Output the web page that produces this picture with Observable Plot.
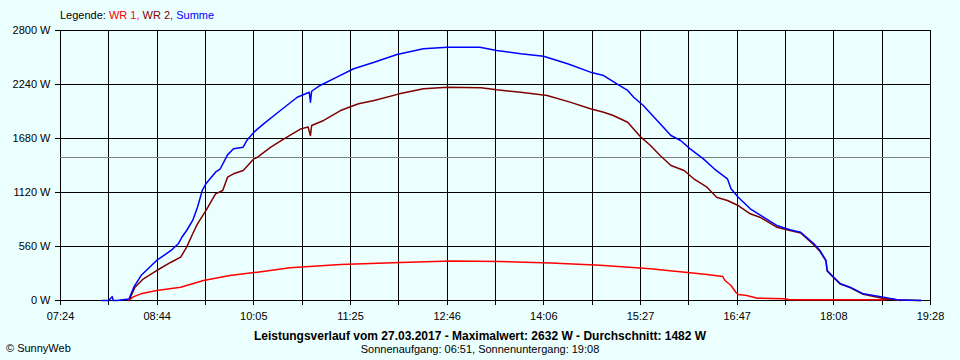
<!DOCTYPE html>
<html>
<head>
<meta charset="utf-8">
<script src="https://cdn.jsdelivr.net/npm/d3@7"></script>
<script src="https://cdn.jsdelivr.net/npm/@observablehq/plot@0.6"></script>
<style>
  html, body { margin: 0; padding: 0; background: #ECFFFF; }
  #wrap { position: relative; width: 960px; height: 360px; overflow: hidden; font-family: "Liberation Sans", Arial, sans-serif; font-size: 11px; color: #000; }
  .abs { position: absolute; white-space: nowrap; line-height: 13px; }
  #legend { left: 60px; top: 9px; }
  #title { left: 0; width: 960px; text-align: center; top: 330px; font-weight: bold; font-size: 12px; }
  #sub { left: 0; width: 960px; text-align: center; top: 343px; }
  #copy { left: 6px; top: 342px; }
</style>
</head>
<body>
<div id="wrap">
  <div id="chart"></div>
  <div class="abs" id="legend"></div>
  <div class="abs" id="title"></div>
  <div class="abs" id="sub"></div>
  <div class="abs" id="copy"></div>
</div>
<script>
// ---- data ----
const seriesNames = ["WR 1", "WR 2", "Summe"];
const seriesColors = ["#FF0000", "#800000", "#0000FF"];

const wr1Time = ["08:21","08:22","08:25","08:31","08:44","09:04","09:23","09:45","10:08","10:35","11:17","12:07","12:49","13:30","14:12","14:53","15:35","15:49","16:08","16:22","16:35","16:37","16:42","16:46","16:48","16:55","17:04","17:26","17:31","18:49","18:55","19:03"];
const wr1Value = [0,15,40,69,104,138,207,259,294,339,373,394,410,405,390,365,330,311,287,270,249,207,156,86,62,52,24,17,7,7,17,0];

const wr2Time = ["08:21","08:26","08:33","08:44","08:56","09:04","09:09","09:14","09:18","09:25","09:33","09:39","09:43","09:48","09:56","10:05","10:08","10:19","10:30","10:44","10:50","10:52","10:53","11:03","11:17","11:32","11:45","12:06","12:26","12:46","13:14","13:27","13:47","14:09","14:28","14:45","14:56","15:04","15:16","15:27","15:35","15:43","15:52","16:03","16:11","16:22","16:30","16:39","16:48","16:58","17:06","17:20","17:31","17:40","17:51","17:56","18:01","18:02","18:06","18:13","18:21","18:32","18:49","19:00","19:20"];
const wr2Value = [0,138,225,311,397,449,553,692,795,933,1106,1141,1279,1314,1348,1469,1486,1590,1677,1780,1800,1711,1815,1867,1970,2040,2074,2143,2195,2212,2206,2185,2160,2126,2057,1988,1953,1918,1849,1694,1607,1504,1400,1348,1262,1175,1071,1037,985,899,864,760,726,700,575,510,410,305,255,170,135,65,20,5,0];

const sumTime = ["07:59","08:04","08:07","08:08","08:11","08:21","08:25","08:31","08:44","08:56","09:02","09:05","09:09","09:14","09:18","09:22","09:25","09:33","09:37","09:43","09:48","09:56","09:59","10:05","10:13","10:27","10:41","10:51","10:52","10:53","11:00","11:14","11:28","11:45","12:04","12:26","12:46","13:13","13:27","13:47","14:06","14:26","14:45","14:56","15:07","15:16","15:21","15:29","15:38","15:43","15:52","16:00","16:08","16:19","16:28","16:39","16:42","16:48","16:58","17:09","17:20","17:31","17:40","17:51","17:56","18:01","18:02","18:06","18:13","18:21","18:32","18:49","19:00","19:20"];
const sumValue = [0,0,40,0,0,15,138,259,415,519,588,656,726,830,968,1141,1210,1331,1366,1510,1573,1590,1659,1746,1832,1970,2108,2160,2056,2170,2230,2316,2403,2471,2551,2610,2627,2627,2593,2558,2533,2455,2368,2333,2247,2178,2108,2022,1901,1832,1711,1659,1573,1469,1366,1262,1158,1071,951,864,778,733,708,588,519,415,311,259,173,138,69,35,7,0];

const averageValue = 1482;
const xTickLabels = ["07:24","08:44","10:05","11:25","12:46","14:06","15:27","16:47","18:08","19:28"];
const yTickValues = [0, 560, 1120, 1680, 2240, 2800];
const yUnit = " W";

const legendLabel = "Legende: ";
const titleText = "Leistungsverlauf vom 27.03.2017 - Maximalwert: 2632 W - Durchschnitt: 1482 W";
const subText = "Sonnenaufgang: 06:51, Sonnenuntergang: 19:08";
const copyText = "© SunnyWeb";

// ---- build ----
const toMin = s => { const [h, m] = s.split(":").map(Number); return h * 60 + m; };
const mk = (times, vals, name) => times.map((t, i) => ({ t: toMin(t), v: vals[i], s: name }));
const wr1 = mk(wr1Time, wr1Value, seriesNames[0]);
const wr2 = mk(wr2Time, wr2Value, seriesNames[1]);
const summe = mk(sumTime, sumValue, seriesNames[2]);

const x0 = toMin(xTickLabels[0]);
const x1 = toMin(xTickLabels[xTickLabels.length - 1]);
const nDiv = (xTickLabels.length - 1) * 2;
const xTicks = d3.range(nDiv + 1).map(i => x0 + (x1 - x0) * i / nDiv);
const labelMap = new Map(xTicks.map((t, i) => [t, i % 2 === 0 ? xTickLabels[i / 2] : ""]));

const crisp = { shapeRendering: "crispEdges" };

const chart = Plot.plot({
  width: 960,
  height: 360,
  marginLeft: 60,
  marginRight: 30,
  marginTop: 30,
  marginBottom: 60,
  style: { fontFamily: "'Liberation Sans', Arial, sans-serif", fontSize: "11px", background: "transparent", color: "#000", overflow: "visible" },
  x: { domain: [x0, x1] },
  y: { domain: [0, yTickValues[yTickValues.length - 1]] },
  marks: [
    Plot.gridX(xTicks, { stroke: "#000", strokeOpacity: 1, ...crisp }),
    Plot.gridY(yTickValues, { stroke: "#000", strokeOpacity: 1, ...crisp }),
    Plot.ruleY([averageValue], { stroke: "#808080", ...crisp }),
    Plot.axisY(yTickValues, { tickSize: 5, tickPadding: 5, tickFormat: d => d + yUnit, label: null, fill: "#000", stroke: "#000", ...crisp }),
    Plot.axisX(xTicks, { tickSize: 5, tickPadding: 7, tickFormat: d => labelMap.get(d), label: null, fill: "#000", stroke: "#000", ...crisp }),
    Plot.line(wr1, { x: "t", y: "v", stroke: seriesColors[0], strokeWidth: 1.5 }),
    Plot.line(wr2, { x: "t", y: "v", stroke: seriesColors[1], strokeWidth: 1.5 }),
    Plot.line(summe, { x: "t", y: "v", stroke: seriesColors[2], strokeWidth: 1.5 })
  ]
});
document.getElementById("chart").appendChild(chart);

const legend = document.getElementById("legend");
legend.appendChild(document.createTextNode(legendLabel));
seriesNames.forEach((n, i) => {
  const sp = document.createElement("span");
  sp.style.color = seriesColors[i];
  sp.textContent = n + (i < seriesNames.length - 1 ? ", " : "");
  legend.appendChild(sp);
});
document.getElementById("title").textContent = titleText;
document.getElementById("sub").textContent = subText;
document.getElementById("copy").textContent = copyText;
</script>
</body>
</html>
